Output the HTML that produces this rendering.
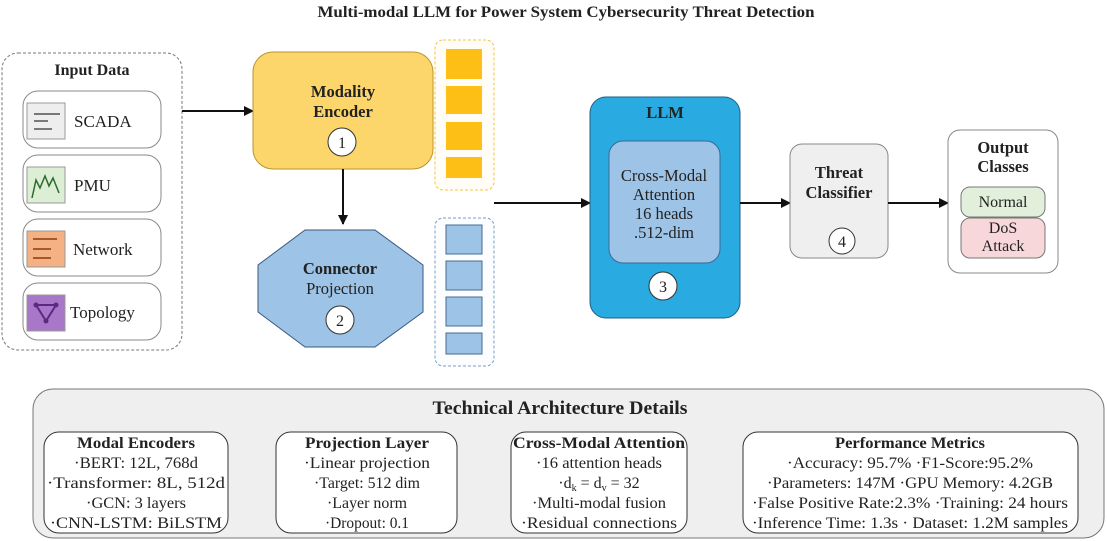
<!DOCTYPE html>
<html><head><meta charset="utf-8"><style>
html,body{margin:0;padding:0;background:#fff}
svg{display:block}
text{font-family:"Liberation Serif",serif;fill:#222}
.b{font-weight:bold}
</style></head><body>
<svg width="1107" height="541" viewBox="0 0 1107 541" xmlns="http://www.w3.org/2000/svg">
<defs><marker id="ar" markerWidth="10" markerHeight="10" refX="9" refY="5" orient="auto" markerUnits="userSpaceOnUse"><path d="M0,0 L10,5 L0,10 z" fill="#111"/></marker></defs>
<text x="566" y="17" text-anchor="middle" class="b" font-size="16" textLength="497" lengthAdjust="spacingAndGlyphs">Multi-modal LLM for Power System Cybersecurity Threat Detection</text>

<rect x="2" y="53" width="180" height="297" rx="16" fill="#fff" stroke="#777" stroke-dasharray="3,2"/>
<text x="92" y="75" text-anchor="middle" class="b" font-size="16">Input Data</text>
<rect x="23" y="91" width="138" height="57" rx="15" fill="#fff" stroke="#888"/>
<rect x="27" y="103" width="38" height="36" fill="#eee" stroke="#999"/>
<path d="M34,114h26M34,121h14M34,129h18" stroke="#333" stroke-width="1.3"/>
<text x="74" y="127" font-size="17">SCADA</text>
<rect x="23" y="155" width="138" height="57" rx="15" fill="#fff" stroke="#888"/>
<rect x="27" y="167" width="38" height="36" fill="#dcefd5" stroke="#999"/>
<polyline points="32,198 36,180 40,188 45,176 49,186 53,178 59,193" fill="none" stroke="#2d6b2d" stroke-width="1.5"/>
<text x="74" y="191" font-size="17">PMU</text>
<rect x="23" y="219" width="138" height="57" rx="15" fill="#fff" stroke="#888"/>
<rect x="27" y="231" width="38" height="36" fill="#f4b183" stroke="#999"/>
<path d="M33,239h24M33,249h18M33,258h18" stroke="#8b3a10" stroke-width="1.5"/>
<text x="73" y="255" font-size="17">Network</text>
<rect x="23" y="283" width="138" height="57" rx="15" fill="#fff" stroke="#888"/>
<rect x="27" y="295" width="38" height="36" fill="#a877c7" stroke="#999"/>
<path d="M36,305L56,305L46,321z" fill="none" stroke="#5a2a82" stroke-width="2"/>
<circle cx="36" cy="305" r="2.5" fill="#5a2a82"/><circle cx="56" cy="305" r="2.5" fill="#5a2a82"/><circle cx="46" cy="321" r="2.5" fill="#5a2a82"/>
<text x="70" y="318" font-size="17">Topology</text>

<line x1="182" y1="111" x2="253" y2="111" stroke="#111" stroke-width="2" marker-end="url(#ar)"/>

<rect x="253" y="52" width="180" height="117" rx="20" fill="#fdd66b" stroke="#b8962e"/>
<text x="343" y="97" text-anchor="middle" class="b" font-size="16.5">Modality</text>
<text x="343" y="117" text-anchor="middle" class="b" font-size="16.5">Encoder</text>
<circle cx="342" cy="142" r="14" fill="#fff" stroke="#333"/>
<text x="342" y="148" text-anchor="middle" font-size="16">1</text>

<rect x="435" y="40" width="59" height="150" rx="8" fill="#fffdf5" stroke="#f5c542" stroke-dasharray="3,2"/>
<rect x="446" y="49" width="36" height="30" fill="#fdbe16"/>
<rect x="446" y="86" width="36" height="28" fill="#fdbe16"/>
<rect x="446" y="122" width="36" height="28" fill="#fdbe16"/>
<rect x="446" y="157" width="36" height="21" fill="#fdbe16"/>

<line x1="343" y1="169" x2="343" y2="224" stroke="#111" stroke-width="2" marker-end="url(#ar)"/>

<polygon points="305,230 375,230 423,265 423,312 375,347 305,347 258,312 258,265" fill="#9dc3e6" stroke="#3a5a80"/>
<text x="340" y="274" text-anchor="middle" class="b" font-size="16.5">Connector</text>
<text x="340" y="294" text-anchor="middle" font-size="16.5">Projection</text>
<circle cx="340" cy="320" r="14" fill="#fff" stroke="#333"/>
<text x="340" y="326" text-anchor="middle" font-size="16">2</text>

<rect x="435" y="218" width="59" height="148" rx="8" fill="#fbfdff" stroke="#7a9cc6" stroke-dasharray="3,2"/>
<rect x="446" y="225" width="36" height="29" fill="#9dc3e6" stroke="#4a6a90"/>
<rect x="446" y="261" width="36" height="29" fill="#9dc3e6" stroke="#4a6a90"/>
<rect x="446" y="297" width="36" height="29" fill="#9dc3e6" stroke="#4a6a90"/>
<rect x="446" y="333" width="36" height="21" fill="#9dc3e6" stroke="#4a6a90"/>

<line x1="494" y1="203" x2="590" y2="203" stroke="#111" stroke-width="2" marker-end="url(#ar)"/>

<rect x="590" y="97" width="150" height="221" rx="16" fill="#29abe2" stroke="#1f5f85"/>
<text x="665" y="118" text-anchor="middle" class="b" font-size="16.5">LLM</text>
<rect x="609" y="141" width="111" height="122" rx="14" fill="#9dc3e6" stroke="#3a6a95"/>
<text x="664" y="181" text-anchor="middle" font-size="16.5">Cross-Modal</text>
<text x="664" y="200" text-anchor="middle" font-size="16.5">Attention</text>
<text x="664" y="219" text-anchor="middle" font-size="16.5">16 heads</text>
<text x="664" y="238" text-anchor="middle" font-size="16.5">.512-dim</text>
<circle cx="663" cy="286" r="14" fill="#fff" stroke="#333"/>
<text x="663" y="292" text-anchor="middle" font-size="16">3</text>

<line x1="740" y1="203" x2="790" y2="203" stroke="#111" stroke-width="2" marker-end="url(#ar)"/>

<rect x="790" y="144" width="98" height="114" rx="12" fill="#efefef" stroke="#888"/>
<text x="839" y="178" text-anchor="middle" class="b" font-size="16.5">Threat</text>
<text x="839" y="198" text-anchor="middle" class="b" font-size="16.5">Classifier</text>
<circle cx="842" cy="241" r="13" fill="#fff" stroke="#333"/>
<text x="842" y="247" text-anchor="middle" font-size="16">4</text>

<line x1="888" y1="203" x2="948" y2="203" stroke="#111" stroke-width="2" marker-end="url(#ar)"/>

<rect x="948" y="130" width="110" height="143" rx="12" fill="#fff" stroke="#888"/>
<text x="1003" y="153" text-anchor="middle" class="b" font-size="16.5">Output</text>
<text x="1003" y="172" text-anchor="middle" class="b" font-size="16.5">Classes</text>
<rect x="961" y="187" width="84" height="30" rx="9" fill="#e2efda" stroke="#777"/>
<text x="1003" y="207" text-anchor="middle" font-size="16">Normal</text>
<rect x="961" y="218" width="84" height="40" rx="9" fill="#f8d7da" stroke="#777"/>
<text x="1003" y="233" text-anchor="middle" font-size="16">DoS</text>
<text x="1003" y="251" text-anchor="middle" font-size="16">Attack</text>

<rect x="33" y="389" width="1071" height="149" rx="20" fill="#efefef" stroke="#777"/>
<text x="560" y="414" text-anchor="middle" class="b" font-size="19" textLength="255" lengthAdjust="spacingAndGlyphs">Technical Architecture Details</text>

<rect x="44" y="432" width="184" height="101" rx="15" fill="#fff" stroke="#333"/>
<text x="136" y="448" text-anchor="middle" class="b" font-size="16" textLength="118" lengthAdjust="spacingAndGlyphs">Modal Encoders</text>
<text x="136" y="468" text-anchor="middle" font-size="16" textLength="124" lengthAdjust="spacingAndGlyphs">·BERT: 12L, 768d</text>
<text x="136" y="488" text-anchor="middle" font-size="16" textLength="178" lengthAdjust="spacingAndGlyphs">·Transformer: 8L, 512d</text>
<text x="136" y="508" text-anchor="middle" font-size="16" textLength="100" lengthAdjust="spacingAndGlyphs">·GCN: 3 layers</text>
<text x="136" y="528" text-anchor="middle" font-size="16" textLength="172" lengthAdjust="spacingAndGlyphs">·CNN-LSTM: BiLSTM</text>

<rect x="276" y="432" width="181" height="101" rx="15" fill="#fff" stroke="#333"/>
<text x="367" y="448" text-anchor="middle" class="b" font-size="16" textLength="124" lengthAdjust="spacingAndGlyphs">Projection Layer</text>
<text x="367" y="468" text-anchor="middle" font-size="16" textLength="126" lengthAdjust="spacingAndGlyphs">·Linear projection</text>
<text x="367" y="488" text-anchor="middle" font-size="16" textLength="106" lengthAdjust="spacingAndGlyphs">·Target: 512 dim</text>
<text x="367" y="508" text-anchor="middle" font-size="16" textLength="80" lengthAdjust="spacingAndGlyphs">·Layer norm</text>
<text x="367" y="528" text-anchor="middle" font-size="16" textLength="84" lengthAdjust="spacingAndGlyphs">·Dropout: 0.1</text>

<rect x="511" y="432" width="176" height="101" rx="15" fill="#fff" stroke="#333"/>
<text x="599" y="448" text-anchor="middle" class="b" font-size="16" textLength="172" lengthAdjust="spacingAndGlyphs">Cross-Modal Attention</text>
<text x="599" y="468" text-anchor="middle" font-size="16" textLength="126" lengthAdjust="spacingAndGlyphs">·16 attention heads</text>
<text x="599" y="488" text-anchor="middle" font-size="16">·d<tspan font-size="10" dy="3">k</tspan><tspan dy="-3"> = d</tspan><tspan font-size="10" dy="3">v</tspan><tspan dy="-3"> = 32</tspan></text>
<text x="599" y="508" text-anchor="middle" font-size="16" textLength="134" lengthAdjust="spacingAndGlyphs">·Multi-modal fusion</text>
<text x="599" y="528" text-anchor="middle" font-size="16" textLength="156" lengthAdjust="spacingAndGlyphs">·Residual connections</text>

<rect x="743" y="432" width="335" height="101" rx="15" fill="#fff" stroke="#333"/>
<text x="910" y="448" text-anchor="middle" class="b" font-size="16" textLength="150" lengthAdjust="spacingAndGlyphs">Performance Metrics</text>
<text x="910" y="468" text-anchor="middle" font-size="16" textLength="246" lengthAdjust="spacingAndGlyphs">·Accuracy: 95.7%  ·F1-Score:95.2%</text>
<text x="910" y="488" text-anchor="middle" font-size="16" textLength="286" lengthAdjust="spacingAndGlyphs">·Parameters: 147M  ·GPU Memory: 4.2GB</text>
<text x="910" y="508" text-anchor="middle" font-size="16" textLength="316" lengthAdjust="spacingAndGlyphs">·False Positive Rate:2.3%  ·Training: 24 hours</text>
<text x="910" y="528" text-anchor="middle" font-size="16" textLength="316" lengthAdjust="spacingAndGlyphs">·Inference Time: 1.3s  · Dataset: 1.2M samples</text>
</svg>
</body></html>
